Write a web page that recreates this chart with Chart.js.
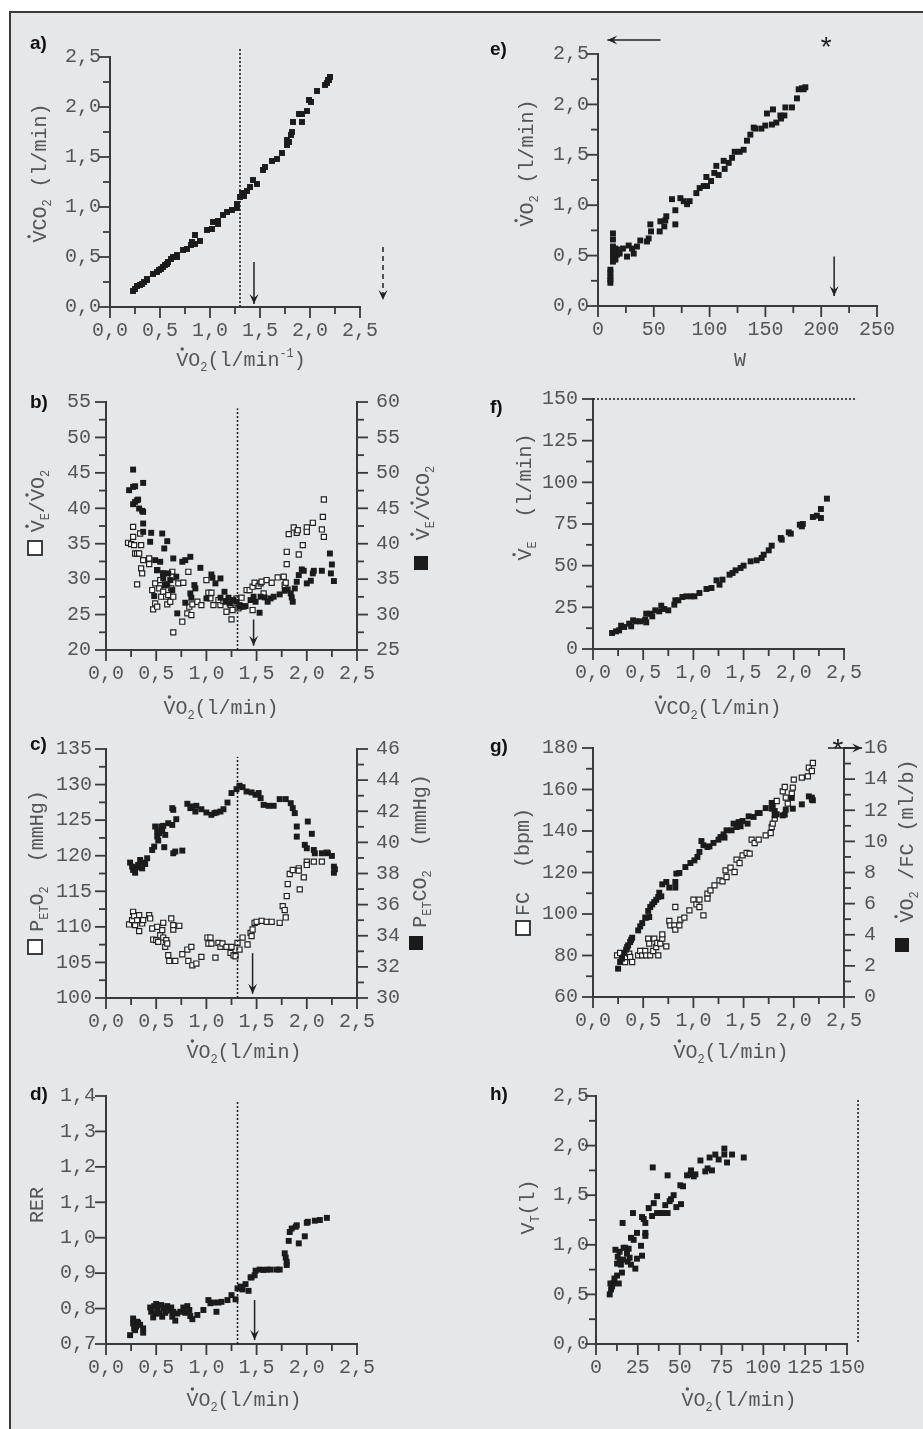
<!DOCTYPE html>
<html>
<head>
<meta charset="utf-8">
<script src="https://cdn.jsdelivr.net/npm/chart.js@4.4.1/dist/chart.umd.min.js"></script>
<style>
  html, body { margin: 0; background: #fff; }
  #page { position: relative; width: 923px; height: 1429px; overflow: hidden; }
  #frame { position: absolute; left: 9px; top: 11px; width: 940px; height: 1450px;
           background: #e6e7e9; border-left: 2px solid #3a3a3a; border-top: 2px solid #3a3a3a; }
  canvas { position: absolute; left: 0; top: 0; }
</style>
</head>
<body>
<div id="page"><div id="frame"></div></div>
<script>
const INK = '#1b1b1b';
const AXIS = '#3a3a3a';
const TEXT = '#555';
const MONO = '"Liberation Mono", "Courier New", monospace';

// room kept for tick labels around each plot area
const LEFT_W = 70, RIGHT_W = 60, BOTTOM_H = 45;

// a) VCO2 vs VO2  [VO2, VCO2]
const aPoints = [[0.23,0.16],[0.25,0.18],[0.27,0.21],[0.30,0.22],[0.32,0.23],[0.34,0.25],[0.37,0.27],[0.37,0.28],[0.43,0.33],[0.47,0.35],[0.49,0.37],[0.51,0.38],[0.53,0.40],[0.55,0.42],[0.57,0.43],[0.58,0.45],[0.61,0.48],[0.63,0.50],[0.67,0.52],[0.67,0.50],[0.73,0.57],[0.77,0.58],[0.81,0.62],[0.82,0.65],[0.85,0.72],[0.85,0.63],[0.90,0.66],[0.97,0.77],[1.02,0.78],[1.03,0.85],[1.08,0.83],[1.08,0.86],[1.13,0.92],[1.17,0.95],[1.22,0.97],[1.27,0.99],[1.27,1.03],[1.30,1.10],[1.32,1.14],[1.34,1.11],[1.37,1.16],[1.40,1.20],[1.43,1.27],[1.47,1.23],[1.53,1.37],[1.55,1.40],[1.62,1.46],[1.67,1.48],[1.72,1.54],[1.77,1.62],[1.77,1.67],[1.79,1.65],[1.81,1.72],[1.82,1.75],[1.83,1.85],[1.89,1.93],[1.92,1.85],[1.92,1.93],[1.97,1.96],[1.99,2.07],[2.01,2.05],[2.07,2.16],[2.15,2.22],[2.17,2.24],[2.18,2.27],[2.20,2.30],[2.19,2.27]];

// e) VO2 vs W  [W, VO2]
const ePoints = [[11.1,0.23],[11.1,0.26],[11.1,0.29],[11.1,0.33],[11.1,0.36],[13.4,0.72],[13.4,0.66],[13.4,0.59],[13.4,0.54],[13.4,0.49],[13.4,0.44],[15.5,0.57],[15.5,0.52],[15.5,0.47],[15.5,0.46],[17.0,0.56],[17.0,0.51],[19.4,0.52],[22.4,0.57],[26.0,0.49],[27.5,0.60],[30.5,0.57],[32.0,0.52],[34.9,0.59],[37.9,0.65],[43.9,0.64],[45.4,0.67],[46.9,0.81],[47.5,0.74],[55.3,0.74],[55.9,0.84],[59.4,0.79],[60.3,0.85],[61.2,0.89],[66.3,1.06],[69.3,0.95],[69.3,0.81],[73.8,1.07],[76.8,1.04],[79.8,1.01],[82.1,1.04],[88.1,1.12],[91.1,1.17],[94.7,1.19],[97.1,1.28],[97.7,1.19],[101.3,1.24],[106.0,1.39],[104.2,1.32],[108.1,1.30],[112.6,1.44],[113.5,1.36],[117.1,1.42],[120.1,1.47],[122.5,1.53],[127.0,1.53],[130.5,1.55],[133.5,1.64],[136.5,1.70],[139.5,1.77],[141.0,1.76],[146.4,1.76],[149.9,1.79],[151.4,1.91],[156.8,1.95],[155.9,1.80],[159.8,1.82],[163.4,1.89],[164.0,1.86],[167.0,1.89],[167.9,1.97],[173.8,1.97],[178.3,2.06],[179.8,2.15],[182.8,2.16],[185.8,2.17],[184.3,2.15]];

// b) VE/VO2 (open, left) and VE/VCO2 (filled, right) vs VO2
const bVeVo2 = [[0.22,35.13],[0.25,34.94],[0.27,37.38],[0.27,35.97],[0.28,34.80],[0.29,33.62],[0.31,33.62],[0.33,33.62],[0.34,36.44],[0.35,34.80],[0.35,31.51],[0.36,30.81],[0.31,29.26],[0.37,32.68],[0.43,32.92],[0.43,32.12],[0.46,28.46],[0.47,25.73],[0.49,26.58],[0.49,29.40],[0.51,31.28],[0.51,26.11],[0.53,28.69],[0.54,29.87],[0.55,27.52],[0.57,28.22],[0.57,30.81],[0.59,29.16],[0.60,27.52],[0.61,26.44],[0.62,27.75],[0.64,26.81],[0.65,28.69],[0.66,31.04],[0.67,27.52],[0.67,30.24],[0.66,30.34],[0.67,22.49],[0.72,29.40],[0.76,23.99],[0.77,29.49],[0.81,25.17],[0.82,31.04],[0.83,26.11],[0.85,24.93],[0.86,26.44],[0.91,26.81],[0.95,26.34],[1.00,29.87],[1.02,28.08],[1.05,28.08],[1.04,27.28],[1.07,26.34],[1.12,27.05],[1.14,26.34],[1.17,26.91],[1.20,25.40],[1.24,26.34],[1.25,24.32],[1.26,25.64],[1.29,26.58],[1.30,27.28],[1.32,25.87],[1.34,26.20],[1.35,27.38],[1.40,28.46],[1.43,28.46],[1.46,28.93],[1.46,25.64],[1.48,29.49],[1.52,29.02],[1.54,29.40],[1.55,29.63],[1.57,27.99],[1.60,29.87],[1.65,29.49],[1.71,30.24],[1.77,30.34],[1.78,29.16],[1.79,29.49],[1.80,32.12],[1.80,33.86],[1.82,36.35],[1.87,37.29],[1.90,36.54],[1.91,36.91],[1.92,33.48],[1.96,34.80],[2.00,37.29],[2.00,36.68],[2.06,37.95],[2.15,37.01],[2.16,38.79],[2.17,41.24],[2.17,35.97]];
const bVeVco2 = [[0.27,50.46],[0.23,47.55],[0.27,48.02],[0.29,48.11],[0.27,45.58],[0.29,45.91],[0.31,46.14],[0.32,46.23],[0.33,44.97],[0.36,44.64],[0.37,44.50],[0.37,48.58],[0.37,42.85],[0.37,41.68],[0.45,41.54],[0.44,40.27],[0.49,37.68],[0.56,41.44],[0.61,40.36],[0.58,39.33],[0.54,37.45],[0.48,32.61],[0.51,36.28],[0.57,35.81],[0.57,35.10],[0.59,34.16],[0.61,34.30],[0.62,35.81],[0.64,34.87],[0.66,33.46],[0.67,37.92],[0.70,35.34],[0.71,30.17],[0.76,37.45],[0.79,37.68],[0.84,38.15],[0.84,32.99],[0.85,32.38],[0.79,31.67],[0.88,34.16],[0.89,33.69],[0.94,36.60],[1.00,32.28],[1.05,35.66],[1.06,35.19],[1.09,34.40],[1.14,35.10],[1.14,32.38],[1.18,33.22],[1.19,31.81],[1.22,32.38],[1.23,31.58],[1.27,32.05],[1.30,31.81],[1.33,31.34],[1.34,31.11],[1.37,31.11],[1.39,31.20],[1.44,32.05],[1.47,32.52],[1.49,31.81],[1.53,30.26],[1.54,32.52],[1.58,32.42],[1.61,31.81],[1.64,32.28],[1.67,32.52],[1.73,32.85],[1.78,33.36],[1.81,33.55],[1.84,32.99],[1.85,32.42],[1.86,31.81],[1.88,33.69],[1.90,34.63],[1.92,35.57],[1.95,36.37],[1.97,36.18],[2.00,34.40],[2.04,34.77],[2.06,35.81],[2.07,36.18],[2.15,36.18],[2.23,38.62],[2.25,37.07],[2.24,35.81],[2.27,34.73]];

// f) VE vs VCO2
const fPoints = [[0.19,9.6],[0.23,10.6],[0.26,11.2],[0.28,14.0],[0.31,13.2],[0.36,15.2],[0.38,13.6],[0.40,17.2],[0.43,16.6],[0.47,16.6],[0.52,17.6],[0.53,21.2],[0.53,16.0],[0.57,21.2],[0.59,19.6],[0.62,23.2],[0.66,22.6],[0.68,26.0],[0.71,24.0],[0.75,23.2],[0.81,26.6],[0.82,29.2],[0.85,29.2],[0.89,31.2],[0.93,31.6],[0.98,31.6],[1.01,31.6],[1.06,33.6],[1.13,36.0],[1.18,36.6],[1.23,41.2],[1.26,38.6],[1.29,41.6],[1.36,44.6],[1.39,45.6],[1.42,47.2],[1.47,48.6],[1.50,50.0],[1.57,52.6],[1.63,53.2],[1.68,54.6],[1.70,56.6],[1.75,59.2],[1.78,62.0],[1.87,66.6],[1.88,65.6],[1.95,70.0],[1.97,69.2],[2.06,74.6],[2.08,73.6],[2.09,75.0],[2.19,79.2],[2.23,80.0],[2.27,78.6],[2.27,84.0],[2.33,90.2]];

// c) PETO2 (open, left) and PETCO2 (filled, right) vs VO2
const cPetO2 = [[0.23,110.34],[0.26,110.95],[0.27,112.12],[0.28,111.51],[0.29,110.24],[0.31,110.95],[0.33,109.40],[0.33,111.65],[0.36,110.48],[0.37,110.95],[0.43,111.65],[0.44,111.18],[0.46,109.77],[0.47,108.22],[0.50,108.13],[0.51,110.01],[0.52,107.89],[0.54,108.83],[0.56,109.54],[0.57,110.57],[0.57,108.50],[0.59,107.19],[0.60,108.13],[0.61,107.66],[0.62,106.01],[0.63,105.21],[0.65,111.18],[0.67,109.63],[0.67,110.24],[0.69,105.21],[0.73,110.15],[0.76,106.15],[0.81,106.81],[0.82,105.21],[0.85,107.19],[0.86,104.60],[0.90,104.84],[0.95,105.78],[1.01,108.50],[1.02,107.66],[1.04,108.50],[1.05,107.66],[1.09,105.68],[1.12,107.75],[1.14,107.19],[1.16,107.66],[1.20,107.19],[1.24,106.34],[1.25,107.19],[1.27,106.01],[1.29,105.87],[1.31,107.75],[1.33,106.81],[1.36,108.50],[1.41,107.52],[1.44,109.16],[1.45,108.69],[1.46,109.63],[1.48,110.57],[1.50,110.71],[1.55,110.85],[1.60,110.71],[1.65,110.71],[1.73,110.57],[1.76,112.92],[1.78,112.36],[1.79,111.32],[1.80,114.33],[1.81,116.02],[1.83,117.43],[1.86,117.99],[1.92,118.23],[1.92,117.90],[1.93,115.27],[1.97,116.96],[2.00,119.17],[2.00,118.70],[2.07,119.17],[2.15,119.17],[2.20,120.44]];
const cPetCo2 = [[0.24,38.70],[0.26,38.44],[0.27,38.23],[0.29,38.05],[0.31,38.40],[0.32,38.55],[0.34,38.87],[0.36,38.33],[0.37,38.70],[0.39,38.61],[0.41,38.98],[0.46,39.51],[0.48,39.73],[0.49,41.02],[0.51,40.70],[0.51,40.37],[0.52,40.12],[0.53,40.59],[0.55,41.02],[0.56,40.76],[0.57,41.06],[0.59,40.48],[0.58,39.69],[0.62,41.23],[0.66,41.12],[0.67,39.30],[0.66,42.20],[0.67,42.09],[0.70,41.49],[0.69,39.41],[0.76,39.47],[0.81,42.48],[0.84,42.20],[0.85,42.31],[0.89,41.98],[0.90,42.35],[0.95,42.13],[1.00,41.92],[1.05,41.77],[1.08,41.88],[1.10,41.92],[1.14,41.98],[1.17,42.13],[1.21,42.56],[1.25,43.17],[1.30,43.42],[1.33,43.64],[1.36,43.55],[1.40,43.27],[1.45,43.21],[1.49,43.06],[1.52,43.17],[1.54,42.84],[1.57,42.41],[1.62,42.35],[1.67,42.35],[1.73,42.78],[1.79,42.78],[1.84,42.52],[1.86,42.20],[1.88,41.88],[1.90,41.02],[1.90,40.37],[1.98,39.84],[2.00,39.62],[2.01,41.34],[2.05,40.55],[2.07,39.51],[2.08,39.30],[2.15,39.30],[2.21,39.30],[2.25,39.13],[2.27,38.44],[2.28,38.27],[2.27,38.05]];

// g) FC (open, left) and VO2/FC (filled, right) vs VO2
const gFc = [[0.24,80.08],[0.27,81.21],[0.30,78.96],[0.32,76.87],[0.33,79.28],[0.36,80.88],[0.37,79.28],[0.39,76.87],[0.45,80.08],[0.47,82.17],[0.49,80.08],[0.52,82.17],[0.53,80.08],[0.55,88.11],[0.56,85.70],[0.57,80.08],[0.60,82.17],[0.61,88.11],[0.63,84.10],[0.65,80.08],[0.64,86.03],[0.67,85.70],[0.69,88.11],[0.69,90.20],[0.73,84.42],[0.76,96.63],[0.77,94.54],[0.81,94.54],[0.82,103.37],[0.82,92.45],[0.86,94.54],[0.87,97.27],[0.91,98.23],[0.96,101.77],[1.00,106.91],[1.03,104.66],[1.06,106.91],[1.06,103.37],[1.10,99.36],[1.14,109.80],[1.14,107.39],[1.17,111.41],[1.21,113.82],[1.26,116.23],[1.29,115.74],[1.32,121.04],[1.33,117.83],[1.37,122.33],[1.41,120.24],[1.43,126.19],[1.46,124.58],[1.49,128.27],[1.53,129.40],[1.56,129.08],[1.58,135.82],[1.61,134.22],[1.65,135.82],[1.72,137.91],[1.77,139.04],[1.78,141.93],[1.79,143.53],[1.81,145.94],[1.83,154.46],[1.89,159.12],[1.91,161.21],[1.92,156.06],[1.94,153.17],[1.98,157.99],[1.99,160.88],[2.00,164.74],[2.08,165.70],[2.14,166.35],[2.15,170.52],[2.18,168.92],[2.19,172.77]];
const gVo2Fc = [[0.25,1.82],[0.27,2.25],[0.29,2.46],[0.31,2.83],[0.33,3.04],[0.34,3.21],[0.35,3.32],[0.37,3.53],[0.38,3.68],[0.39,3.81],[0.45,4.28],[0.47,4.54],[0.49,4.75],[0.52,5.10],[0.53,5.10],[0.56,5.14],[0.55,5.53],[0.57,5.78],[0.59,5.95],[0.61,6.10],[0.63,6.25],[0.65,6.43],[0.66,6.70],[0.68,6.47],[0.69,7.24],[0.73,7.39],[0.76,7.03],[0.82,7.39],[0.82,7.03],[0.83,7.93],[0.86,7.97],[0.92,8.35],[0.97,8.61],[1.01,8.78],[1.04,9.00],[1.06,9.32],[1.08,10.02],[1.10,9.75],[1.14,9.64],[1.16,9.68],[1.20,9.90],[1.25,10.11],[1.27,10.28],[1.30,10.45],[1.31,10.24],[1.33,10.71],[1.38,10.71],[1.40,11.14],[1.43,10.92],[1.45,11.24],[1.47,10.97],[1.49,11.31],[1.54,11.14],[1.55,11.61],[1.60,11.57],[1.64,11.82],[1.66,11.82],[1.72,12.14],[1.78,12.47],[1.79,12.25],[1.78,12.10],[1.81,11.95],[1.81,11.67],[1.83,11.74],[1.89,11.67],[1.91,11.72],[1.92,12.04],[1.98,12.79],[1.99,12.10],[2.08,12.38],[2.15,12.89],[2.18,12.81],[2.19,12.64],[2.18,12.68]];

// d) RER vs VO2
const dRer = [[0.24,0.725],[0.27,0.758],[0.27,0.772],[0.28,0.744],[0.29,0.739],[0.30,0.749],[0.31,0.763],[0.32,0.760],[0.34,0.754],[0.37,0.744],[0.37,0.732],[0.44,0.803],[0.45,0.791],[0.47,0.775],[0.48,0.807],[0.49,0.786],[0.50,0.813],[0.51,0.796],[0.53,0.786],[0.55,0.810],[0.56,0.777],[0.57,0.801],[0.59,0.788],[0.61,0.807],[0.62,0.794],[0.65,0.803],[0.66,0.777],[0.67,0.791],[0.69,0.766],[0.71,0.786],[0.74,0.791],[0.77,0.803],[0.79,0.788],[0.81,0.807],[0.83,0.796],[0.84,0.779],[0.86,0.770],[0.91,0.782],[0.97,0.796],[1.02,0.824],[1.04,0.815],[1.07,0.817],[1.10,0.791],[1.12,0.817],[1.15,0.819],[1.21,0.824],[1.25,0.838],[1.29,0.826],[1.31,0.857],[1.34,0.862],[1.36,0.854],[1.39,0.869],[1.42,0.850],[1.44,0.888],[1.45,0.888],[1.48,0.894],[1.49,0.907],[1.53,0.910],[1.57,0.909],[1.60,0.910],[1.64,0.910],[1.70,0.910],[1.73,0.910],[1.78,0.956],[1.79,0.944],[1.80,0.923],[1.80,0.932],[1.82,0.991],[1.83,1.016],[1.85,1.026],[1.89,1.031],[1.90,1.035],[1.92,0.984],[1.98,1.004],[2.00,1.042],[2.01,1.045],[2.08,1.048],[2.13,1.050],[2.20,1.056]];

// h) VT vs VE
const hVt = [[8.2,0.50],[9.0,0.55],[8.6,0.61],[9.6,0.58],[10.2,0.61],[11.0,0.66],[12.6,0.69],[13.6,0.61],[11.6,0.95],[13.0,0.88],[12.6,0.81],[14.1,0.93],[14.1,0.85],[14.9,0.80],[15.5,0.72],[16.1,0.85],[15.9,1.22],[16.5,0.97],[17.5,0.97],[18.5,0.91],[19.5,0.96],[18.9,0.83],[20.1,0.87],[20.9,0.80],[20.9,1.07],[22.1,1.32],[22.5,1.05],[23.5,0.76],[24.5,1.12],[24.5,0.86],[26.9,0.99],[27.5,0.89],[27.5,1.28],[28.5,1.26],[29.5,1.22],[29.5,1.12],[29.5,1.09],[31.5,1.37],[33.5,1.29],[33.9,1.78],[34.5,1.42],[36.5,1.49],[36.5,1.32],[38.5,1.32],[40.4,1.32],[41.4,1.40],[42.8,1.32],[42.8,1.70],[44.0,1.44],[44.8,1.46],[46.4,1.50],[48.0,1.38],[50.4,1.60],[50.8,1.41],[52.0,1.59],[54.4,1.70],[56.4,1.71],[56.8,1.75],[58.4,1.69],[59.4,1.71],[62.4,1.85],[65.3,1.74],[66.7,1.77],[67.9,1.88],[69.3,1.75],[71.3,1.91],[73.3,1.86],[76.7,1.97],[76.7,1.91],[78.3,1.83],[81.3,1.91],[88.3,1.88]];

// threshold markers (data units)
const vtLine = 1.31;
const vtArrow = 1.46;

function parseRich(str) {
  const out = [];
  let i = 0;
  while (i < str.length) {
    const c = str[i];
    if (c === '_' || c === '^') {
      let t;
      if (str[i + 1] === '{') { const j = str.indexOf('}', i); t = str.slice(i + 2, j); i = j + 1; }
      else { t = str[i + 1]; i += 2; }
      out.push({ t, sub: c === '_', sup: c === '^' });
    } else if (str[i + 1] === "'") { out.push({ t: c, dot: true }); i += 2; }
    else { out.push({ t: c }); i++; }
  }
  return out;
}

function drawRich(ctx, str, cx, cy, rotated) {
  const parts = parseRich(str);
  const big = '20px ' + MONO, small = '12px ' + MONO;
  ctx.save();
  ctx.translate(cx, cy);
  if (rotated) ctx.rotate(-Math.PI / 2);
  let w = 0;
  for (const p of parts) { ctx.font = (p.sub || p.sup) ? small : big; w += ctx.measureText(p.t).width; }
  let x = -w / 2;
  ctx.fillStyle = TEXT;
  ctx.textAlign = 'left';
  ctx.textBaseline = 'alphabetic';
  for (const p of parts) {
    ctx.font = (p.sub || p.sup) ? small : big;
    const dy = p.sub ? 11 : p.sup ? -3 : 6;
    ctx.fillText(p.t, x, dy);
    const pw = ctx.measureText(p.t).width;
    if (p.dot) { ctx.beginPath(); ctx.arc(x + pw / 2, -11, 1.7, 0, Math.PI * 2); ctx.fill(); }
    x += pw;
  }
  ctx.restore();
}

function arrowHead(ctx, x0, y0, x1, y1) {
  const a = Math.atan2(y1 - y0, x1 - x0), L = 10, W = 4.5;
  ctx.beginPath();
  ctx.moveTo(x1, y1);
  ctx.lineTo(x1 - L * Math.cos(a) + W * Math.sin(a), y1 - L * Math.sin(a) - W * Math.cos(a));
  ctx.lineTo(x1 - 0.6 * L * Math.cos(a), y1 - 0.6 * L * Math.sin(a));
  ctx.lineTo(x1 - L * Math.cos(a) - W * Math.sin(a), y1 - L * Math.sin(a) + W * Math.cos(a));
  ctx.closePath();
  ctx.fill();
}

function decor(cfg) {
  return {
    id: 'decor',
    afterDraw(chart) {
      const ctx = chart.ctx, area = chart.chartArea;
      ctx.save();
      ctx.strokeStyle = AXIS;
      ctx.lineWidth = 1.8;
      for (const s of Object.values(chart.scales)) {
        for (const t of s.ticks) {
          const p = s.getPixelForValue(t.value);
          const len = t.label === '' ? 7 : 11;
          ctx.beginPath();
          if (s.position === 'bottom') { ctx.moveTo(p, area.bottom); ctx.lineTo(p, area.bottom + len); }
          else if (s.position === 'left') { ctx.moveTo(area.left - len, p); ctx.lineTo(area.left, p); }
          else { ctx.moveTo(area.right, p); ctx.lineTo(area.right + len, p); }
          ctx.stroke();
        }
      }
      const X = chart.scales.x;
      for (const m of cfg.marks || []) {
        const Y = chart.scales[m.axis || 'y'];
        const x0 = X.getPixelForValue(m.x[0]), x1 = X.getPixelForValue(m.x[1]);
        const y0 = Y.getPixelForValue(m.y[0]), y1 = Y.getPixelForValue(m.y[1]);
        ctx.strokeStyle = '#222';
        ctx.fillStyle = '#222';
        ctx.lineWidth = m.dotted ? 1.6 : 1.5;
        ctx.setLineDash(m.dotted ? [2, 2] : m.dashed ? [5, 4] : []);
        ctx.beginPath();
        ctx.moveTo(x0, y0);
        ctx.lineTo(x1, y1);
        ctx.stroke();
        ctx.setLineDash([]);
        if (m.head) arrowHead(ctx, x0, y0, x1, y1);
      }
      for (const st of cfg.stars || []) {
        const Y = chart.scales[st.axis || 'y'];
        ctx.fillStyle = '#222';
        ctx.font = '28px ' + MONO;
        ctx.textAlign = 'center';
        ctx.textBaseline = 'middle';
        ctx.fillText('*', X.getPixelForValue(st.x), Y.getPixelForValue(st.y) + 6);
      }
      for (const sq of cfg.squares || []) {
        const s = 14;
        ctx.lineWidth = 1.8;
        ctx.strokeStyle = '#2a2a2a';
        ctx.fillStyle = sq.filled ? INK : '#fff';
        ctx.fillRect(sq.cx - s / 2, sq.cy - s / 2, s, s);
        if (!sq.filled) ctx.strokeRect(sq.cx - s / 2, sq.cy - s / 2, s, s);
      }
      for (const t of cfg.titles) drawRich(ctx, t.s, t.x, t.y, t.rot);
      ctx.fillStyle = '#111';
      ctx.font = 'bold 19px "Liberation Sans", Arial, sans-serif';
      ctx.textAlign = 'left';
      ctx.textBaseline = 'middle';
      ctx.fillText(cfg.letter[0], cfg.letter[1], cfg.letter[2]);
      ctx.restore();
    }
  };
}

function fmt(v, a) {
  const k = v / a.major;
  if (Math.abs(k - Math.round(k)) > 1e-6) return '';
  return v.toFixed(a.dec).replace('.', ',');
}

function axis(position, a) {
  const size = position === 'bottom' ? BOTTOM_H : position === 'left' ? LEFT_W : RIGHT_W;
  return {
    type: 'linear',
    position,
    min: a.min,
    max: a.max,
    afterFit: (s) => { if (s.isHorizontal()) s.height = size; else s.width = size; },
    grid: { display: false, drawTicks: false },
    border: { display: true, color: AXIS, width: 2 },
    ticks: {
      stepSize: a.step,
      autoSkip: false,
      maxRotation: 0,
      padding: a.pad,
      color: TEXT,
      font: { family: MONO, size: 20 },
      callback: (v) => fmt(v, a)
    }
  };
}

function filled(points, axisId) {
  return { data: points.map(([x, y]) => ({ x, y })), yAxisID: axisId || 'y', pointStyle: 'rect',
           pointRadius: 4.2, backgroundColor: INK, borderColor: INK, borderWidth: 0 };
}
function open(points, axisId) {
  return { data: points.map(([x, y]) => ({ x, y })), yAxisID: axisId || 'y', pointStyle: 'rect',
           pointRadius: 3.6, backgroundColor: '#fff', borderColor: '#222', borderWidth: 1.2 };
}

const vo2Axis = { min: 0, max: 2.5, step: 0.25, major: 0.5, dec: 1, pad: 12 };

function panel(cfg) {
  const canvas = document.createElement('canvas');
  canvas.width = 923;
  canvas.height = 1429;
  document.getElementById('page').appendChild(canvas);
  const scales = { x: axis('bottom', cfg.x), y: axis('left', cfg.y) };
  if (cfg.y2) scales.y2 = axis('right', cfg.y2);
  const [l, t, r, b] = cfg.area;
  new Chart(canvas, {
    type: 'scatter',
    data: { datasets: cfg.sets },
    options: {
      responsive: false,
      animation: false,
      events: [],
      layout: { padding: {
        left: l - LEFT_W,
        top: t,
        right: 923 - r - (cfg.y2 ? RIGHT_W : 0),
        bottom: 1429 - b - BOTTOM_H
      } },
      plugins: { legend: { display: false }, tooltip: { enabled: false } },
      scales
    },
    plugins: [decor(cfg)]
  });
}

panel({
  area: [110, 57, 360, 307],
  x: vo2Axis,
  y: { min: 0, max: 2.5, step: 0.25, major: 0.5, dec: 1, pad: 9 },
  sets: [filled(aPoints)],
  marks: [
    { x: [1.3, 1.3], y: [0, 2.6], dotted: true },
    { x: [1.44, 1.44], y: [0.45, 0.03], head: true },
    { x: [2.73, 2.73], y: [0.6, 0.07], head: true, dashed: true }
  ],
  titles: [
    { s: "V'CO_2 (l/min)", x: 40, y: 173, rot: true },
    { s: "V'O_2(l/min^{-1})", x: 241, y: 360 }
  ],
  letter: ['a)', 30, 44]
});

panel({
  area: [598, 54, 877, 306],
  x: { min: 0, max: 250, step: 25, major: 50, dec: 0, pad: 12 },
  y: { min: 0, max: 2.5, step: 0.25, major: 0.5, dec: 1, pad: 9 },
  sets: [filled(ePoints)],
  marks: [
    { x: [56, 8.4], y: [2.64, 2.64], head: true },
    { x: [211.6, 211.6], y: [0.49, 0.1], head: true }
  ],
  stars: [{ x: 204.4, y: 2.6 }],
  titles: [
    { s: "V'O_2 (l/min)", x: 527, y: 163, rot: true },
    { s: 'W', x: 740, y: 360 }
  ],
  letter: ['e)', 490, 50]
});

panel({
  area: [106, 402, 357, 650],
  x: vo2Axis,
  y: { min: 20, max: 55, step: 2.5, major: 5, dec: 0, pad: 15 },
  y2: { min: 25, max: 60, step: 2.5, major: 5, dec: 0, pad: 19 },
  sets: [filled(bVeVco2, 'y2'), open(bVeVo2, 'y')],
  marks: [
    { x: [vtLine, vtLine], y: [20, 54.1], dotted: true },
    { x: [1.47, 1.47], y: [24.3, 20.6], head: true }
  ],
  squares: [{ cx: 35, cy: 548 }, { cx: 421, cy: 563, filled: true }],
  titles: [
    { s: "V'_E/V'O_2", x: 38, y: 501, rot: true },
    { s: "V'_E/V'CO_2", x: 423, y: 503, rot: true },
    { s: "V'O_2(l/min)", x: 221, y: 708 }
  ],
  letter: ['b)', 30, 403]
});

panel({
  area: [593, 399, 844, 649],
  x: vo2Axis,
  y: { min: 0, max: 150, step: 12.5, major: 25, dec: 0, pad: 15 },
  sets: [filled(fPoints)],
  marks: [{ x: [0, 2.63], y: [150, 150], dotted: true }],
  titles: [
    { s: "V'_E  (l/min)", x: 525, y: 497, rot: true },
    { s: "V'CO_2(l/min)", x: 718, y: 708 }
  ],
  letter: ['f)', 490, 408]
});

panel({
  area: [106, 749, 357, 998],
  x: vo2Axis,
  y: { min: 100, max: 135, step: 2.5, major: 5, dec: 0, pad: 14 },
  y2: { min: 30, max: 46, step: 1, major: 2, dec: 0, pad: 19 },
  sets: [filled(cPetCo2, 'y2'), open(cPetO2, 'y')],
  marks: [
    { x: [vtLine, vtLine], y: [100, 133.9], dotted: true },
    { x: [vtArrow, vtArrow], y: [106.3, 100.6], head: true }
  ],
  squares: [{ cx: 35, cy: 947 }, { cx: 416, cy: 943, filled: true }],
  titles: [
    { s: 'P_{ET}O_2  (mmHg)', x: 37, y: 861, rot: true },
    { s: 'P_{ET}CO_2  (mmHg)', x: 420, y: 851, rot: true },
    { s: "V'O_2(l/min)", x: 244, y: 1052 }
  ],
  letter: ['c)', 30, 745]
});

panel({
  area: [593, 748, 844, 997],
  x: vo2Axis,
  y: { min: 60, max: 180, step: 10, major: 20, dec: 0, pad: 15 },
  y2: { min: 0, max: 16, step: 1, major: 2, dec: 0, pad: 20 },
  sets: [filled(gVo2Fc, 'y2'), open(gFc, 'y')],
  marks: [{ x: [2.34, 2.68], y: [16, 16], axis: 'y2', head: true }],
  stars: [{ x: 2.44, y: 16.15, axis: 'y2' }],
  squares: [{ cx: 523, cy: 928 }, { cx: 902, cy: 945, filled: true }],
  titles: [
    { s: 'FC  (bpm)', x: 523, y: 862, rot: true },
    { s: "V'O_2 /FC (ml/b)", x: 907, y: 841, rot: true },
    { s: "V'O_2(l/min)", x: 731, y: 1052 }
  ],
  letter: ['g)', 490, 747]
});

panel({
  area: [106, 1096, 357, 1344],
  x: vo2Axis,
  y: { min: 0.7, max: 1.4, step: 0.1, major: 0.1, dec: 1, pad: 10 },
  sets: [filled(dRer)],
  marks: [
    { x: [vtLine, vtLine], y: [0.7, 1.383], dotted: true },
    { x: [1.48, 1.48], y: [0.824, 0.711], head: true }
  ],
  titles: [
    { s: 'RER', x: 37, y: 1205, rot: true },
    { s: "V'O_2(l/min)", x: 244, y: 1400 }
  ],
  letter: ['d)', 30, 1095]
});

panel({
  area: [596, 1096, 847, 1344],
  x: { min: 0, max: 150, step: 12.5, major: 25, dec: 0, pad: 12 },
  y: { min: 0, max: 2.5, step: 0.25, major: 0.5, dec: 1, pad: 7 },
  sets: [filled(hVt)],
  marks: [{ x: [156.6, 156.6], y: [0.02, 2.46], dotted: true }],
  titles: [
    { s: 'V_T(l)', x: 528, y: 1207, rot: true },
    { s: "V'O_2(l/min)", x: 739, y: 1400 }
  ],
  letter: ['h)', 490, 1095]
});
</script>
</body>
</html>
